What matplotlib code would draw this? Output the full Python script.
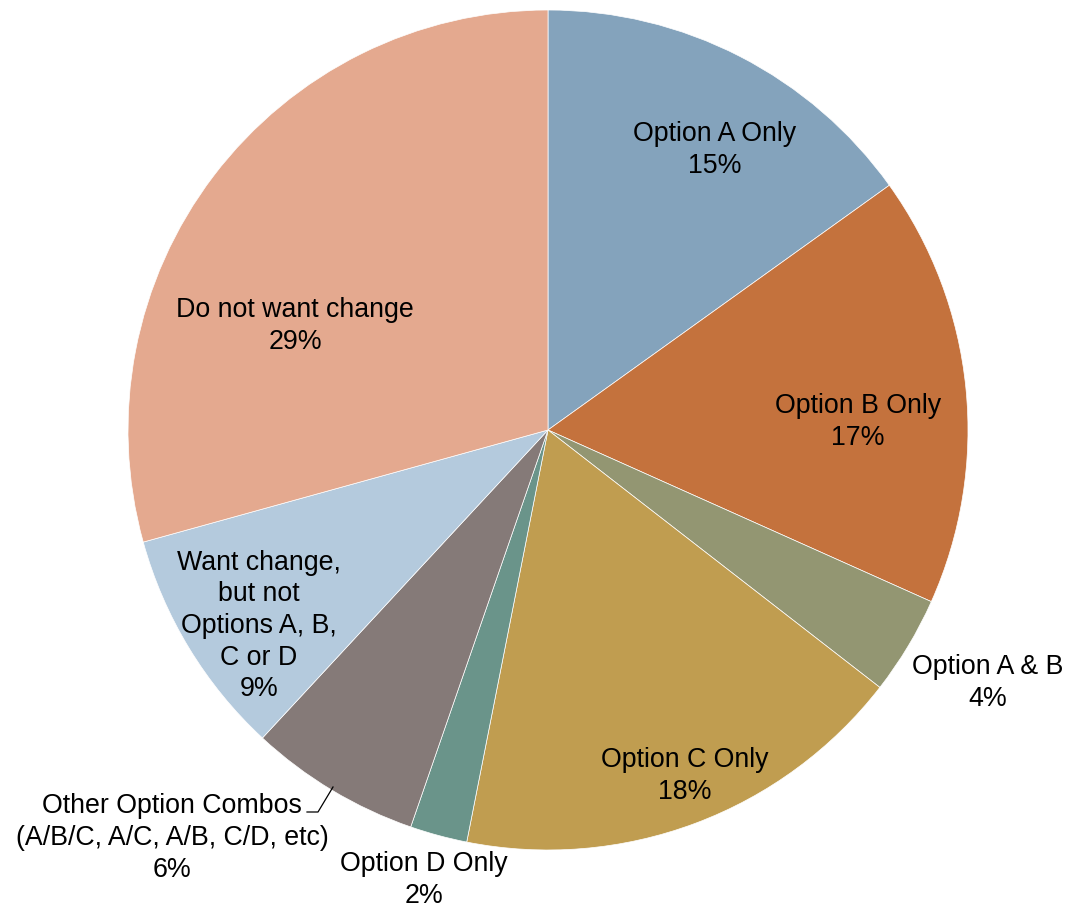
import matplotlib.pyplot as plt

# slice shares (clockwise from 12 o'clock)
categories = ['Option A Only', 'Option B Only', 'Option A & B', 'Option C Only',
              'Option D Only', 'Other Option Combos\n(A/B/C, A/C, A/B, C/D, etc)',
              'Want change,\nbut not\nOptions A, B,\nC or D', 'Do not want change']
values = [15.1, 16.6, 3.8, 17.6, 2.2, 6.6, 8.8, 29.3]
pct_labels = ['15%', '17%', '4%', '18%', '2%', '6%', '9%', '29%']
colors = ['#84a3bc', '#c4723d', '#939672', '#c09d50', '#6a948a', '#857a78',
          '#b4cadd', '#e4a98f']

# label centres in pixel coords (x, y from top)
label_pos = [(715, 150), (858, 422), (988, 683), (685, 776), (424, 880),
             (172, 838), (259, 626), (295, 326)]

W, H = 1066, 908
fig = plt.figure(figsize=(W / 100, H / 100), dpi=100)
ax = fig.add_axes([0, 0, 1, 1])
ax.axis('off')

ax.pie(values, colors=colors, startangle=90, counterclock=False,
       center=(548, H - 430), radius=420,
       wedgeprops=dict(edgecolor='white', linewidth=0.5))
ax.set_xlim(0, W)
ax.set_ylim(0, H)
ax.set_aspect('equal')

for cat, pct, (x, y) in zip(categories, pct_labels, label_pos):
    ax.text(x, H - y, cat + '\n' + pct, ha='center', va='center',
            family='Liberation Sans', fontsize=19.3, linespacing=1.28)

# leader line for the small "Other" slice
ax.plot([307, 318, 333], [H - 812, H - 812, H - 787], color='black', lw=0.9)

fig.savefig('out.png', dpi=100)
